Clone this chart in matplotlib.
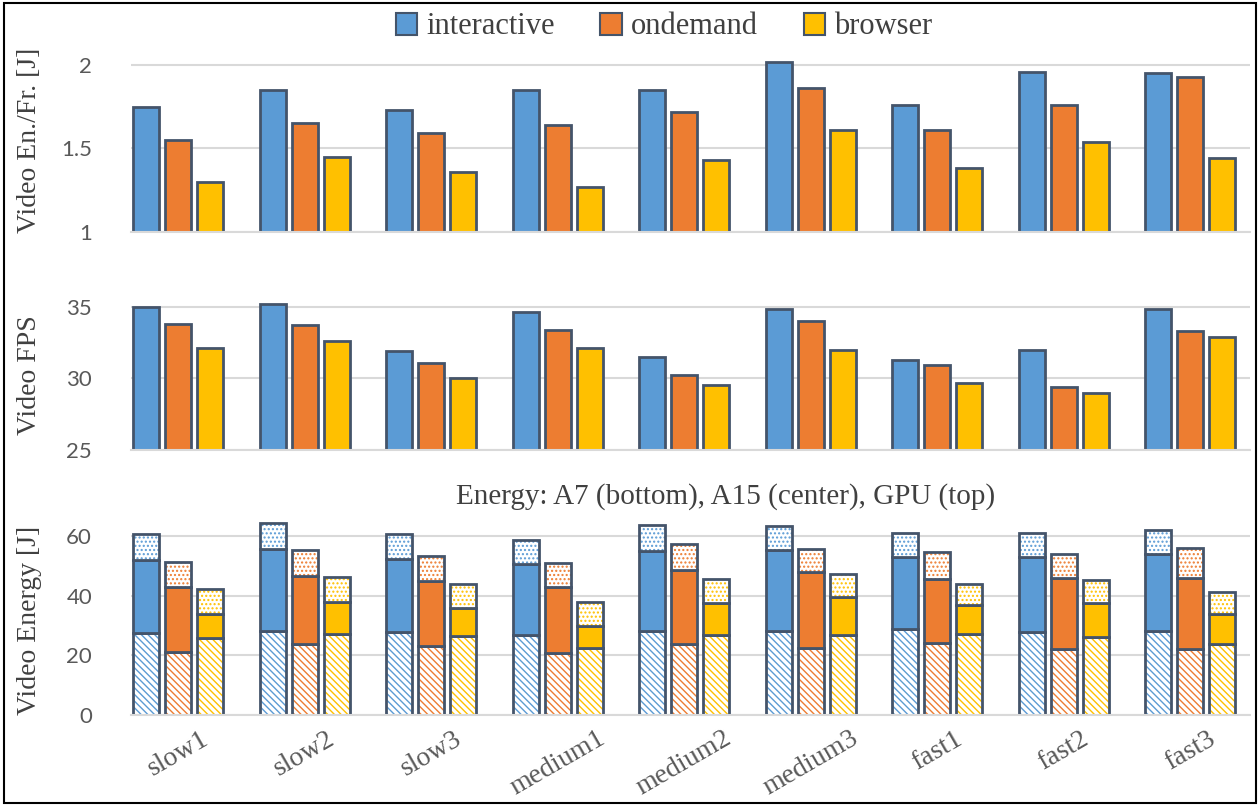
import numpy as np
import matplotlib
matplotlib.use('Agg')
import matplotlib.pyplot as plt
from matplotlib.patches import Patch, Rectangle

# Data
categories = ['slow1', 'slow2', 'slow3', 'medium1', 'medium2', 'medium3', 'fast1', 'fast2', 'fast3']
governors = ['interactive', 'ondemand', 'browser']

enfr_interactive = [1.75, 1.85, 1.73, 1.85, 1.85, 2.02, 1.76, 1.96, 1.95]
enfr_ondemand = [1.55, 1.65, 1.59, 1.64, 1.72, 1.86, 1.61, 1.76, 1.93]
enfr_browser = [1.30, 1.45, 1.36, 1.27, 1.43, 1.61, 1.38, 1.54, 1.44]

fps_interactive = [35.0, 35.2, 31.9, 34.6, 31.5, 34.8, 31.3, 32.0, 34.8]
fps_ondemand = [33.8, 33.7, 31.1, 33.4, 30.2, 34.0, 30.9, 29.4, 33.3]
fps_browser = [32.1, 32.6, 30.0, 32.1, 29.5, 32.0, 29.7, 29.0, 32.9]

# energy split: A7 (bottom), A15 (center), GPU (top)
a7_interactive = [27.6, 28.3, 27.7, 26.7, 28.3, 28.0, 28.7, 27.8, 28.1]
a15_interactive = [24.3, 27.3, 24.6, 23.9, 26.5, 27.2, 24.3, 25.2, 25.8]
gpu_interactive = [8.7, 8.7, 8.4, 8.0, 8.9, 8.1, 8.0, 8.1, 8.1]

a7_ondemand = [21.1, 23.7, 23.0, 20.8, 23.7, 22.4, 24.0, 22.0, 22.0]
a15_ondemand = [21.9, 22.9, 22.0, 22.0, 24.9, 25.6, 21.7, 23.9, 23.8]
gpu_ondemand = [8.3, 8.6, 8.3, 8.0, 8.6, 7.7, 9.0, 8.0, 10.3]

a7_browser = [25.9, 27.2, 26.3, 22.6, 26.7, 26.7, 27.0, 26.1, 23.7]
a15_browser = [7.8, 10.7, 9.7, 7.2, 10.7, 12.7, 9.7, 11.3, 10.0]
gpu_browser = [8.5, 8.3, 8.0, 8.2, 8.3, 7.8, 7.3, 7.8, 7.6]

colors = ['#5B9BD5', '#ED7D31', '#FFC000']
edge = '#44546A'
grid_c = '#D9D9D9'
tick_c = '#595959'
serif = ['Liberation Serif', 'DejaVu Serif']
sans = ['Lato', 'DejaVu Sans']

plt.rcParams['hatch.linewidth'] = 1.0

W, H = 1260, 806
fig = plt.figure(figsize=(W / 100, H / 100), dpi=100)


def px_axes(left, right, bottom, top):
    return fig.add_axes([left / W, 1 - bottom / H, (right - left) / W, (bottom - top) / H])


x = np.arange(len(categories))
offsets = [-0.253, 0.0, 0.253]
bw = 0.205
xlim = (-0.372, 8.474)


def style_axis(ax, ylim, yticks):
    ax.set_xlim(*xlim)
    ax.set_ylim(*ylim)
    ax.set_yticks(yticks)
    for s in ['top', 'right', 'left']:
        ax.spines[s].set_visible(False)
    ax.spines['bottom'].set_color(grid_c)
    ax.spines['bottom'].set_linewidth(1.5)
    ax.yaxis.grid(True, color=grid_c, linewidth=1.5)
    ax.set_axisbelow(True)
    ax.tick_params(axis='y', length=0, pad=28, labelsize=16, labelcolor=tick_c)
    for lab in ax.get_yticklabels():
        lab.set_family(sans)
    ax.tick_params(axis='x', length=0)


# Top panel: energy per frame
ax1 = px_axes(131, 1250, 231.7, 56.7)
for i, vals in enumerate([enfr_interactive, enfr_ondemand, enfr_browser]):
    ax1.bar(x + offsets[i], np.array(vals) - 1, bw, bottom=1, color=colors[i],
            edgecolor=edge, linewidth=2)
style_axis(ax1, (1, 2.05), [1, 1.5, 2])
ax1.set_yticklabels(['1', '1.5', '2'])
ax1.set_xticklabels([])

# Middle panel: FPS
ax2 = px_axes(131, 1250, 450, 298)
for i, vals in enumerate([fps_interactive, fps_ondemand, fps_browser]):
    ax2.bar(x + offsets[i], np.array(vals) - 25, bw, bottom=25, color=colors[i],
            edgecolor=edge, linewidth=2)
style_axis(ax2, (25, 35.6), [25, 30, 35])
ax2.set_xticklabels([])

# Bottom panel: stacked energy
ax3 = px_axes(131, 1250, 715, 512)
a7s = [a7_interactive, a7_ondemand, a7_browser]
a15s = [a15_interactive, a15_ondemand, a15_browser]
gpus = [gpu_interactive, gpu_ondemand, gpu_browser]
for i in range(3):
    xi = x + offsets[i]
    a7 = np.array(a7s[i])
    a15 = np.array(a15s[i])
    gpu = np.array(gpus[i])
    # A7: hatched
    ax3.bar(xi, a7, bw, color='white', edgecolor=colors[i], hatch='\\' * 5, linewidth=0)
    ax3.bar(xi, a7, bw, fill=False, edgecolor=edge, linewidth=2)
    # A15: solid
    ax3.bar(xi, a15, bw, bottom=a7, color=colors[i], edgecolor=edge, linewidth=2)
    # GPU: dotted
    ax3.bar(xi, gpu, bw, bottom=a7 + a15, color='white', edgecolor=colors[i], hatch='....', linewidth=0)
    ax3.bar(xi, gpu, bw, bottom=a7 + a15, fill=False, edgecolor=edge, linewidth=2)
style_axis(ax3, (0, 68), [0, 20, 40, 60])
ax3.set_xticks(x)
ax3.set_xticklabels(categories, rotation=30, ha='center', fontsize=20,
                    family=serif, color=tick_c)
ax3.tick_params(axis='x', pad=8)

fig.text(726 / W, 1 - 497 / H, 'Energy: A7 (bottom), A15 (center), GPU (top)',
         ha='center', va='center', fontsize=21, family=serif, color='#404040')

# y labels
ylabels = [('Video En./Fr. [J]', 140), ('Video FPS', 375), ('Video Energy [J]', 620)]
for txt, yp in ylabels:
    fig.text(30 / W, 1 - yp / H, txt, rotation=90, ha='center', va='center',
             fontsize=20, family=serif, color='#404040')

# legend
handles = [Patch(facecolor=colors[i], edgecolor=edge, linewidth=1.5, label=governors[i]) for i in range(3)]
fig.legend(handles=handles, loc='center', bbox_to_anchor=(664 / W, 1 - 27 / H), ncol=3,
           frameon=False, prop={'family': serif, 'size': 22}, handlelength=0.7,
           handleheight=0.7, handletextpad=0.3, columnspacing=1.5, labelcolor='#404040')

# outer frame
fig.patches.append(Rectangle((4 / W, 3 / H), (W - 8) / W, (H - 6) / H, transform=fig.transFigure,
                             fill=False, edgecolor='black', linewidth=1.5))

fig.savefig('out.png', dpi=100)
